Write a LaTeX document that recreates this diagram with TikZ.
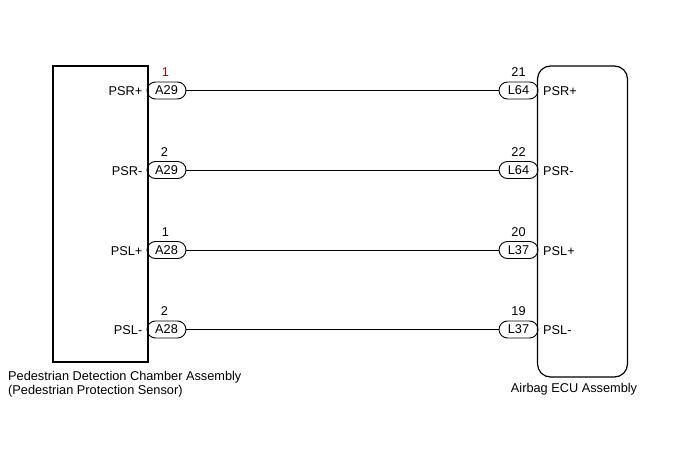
\documentclass[tikz,border=0pt]{standalone}
\usepackage{fontspec}
\setmainfont{Liberation Sans}
\usetikzlibrary{positioning}
\definecolor{pinred}{RGB}{140,20,20}
\begin{document}
\begin{tikzpicture}[x=1bp,y=-1bp,
  lbl/.style={inner sep=0pt,font=\fontsize{12.8}{14.5}\selectfont},
  pill/.style={draw,line width=0.9bp,rounded corners=8.5bp,minimum width=39bp,minimum height=17bp,inner sep=0pt,font=\fontsize{12.8}{14.5}\selectfont},
  wire/.style={line width=0.9bp},
  unit/.style={draw,line width=1.2bp}]
\useasboundingbox (0,0) rectangle (688,463);
% units
\node[unit,minimum width=95bp,minimum height=296bp,inner sep=0pt] (pdc) at (100.5,214) {};
\node[unit,rounded corners=13bp,minimum width=90bp,minimum height=311bp,inner sep=0pt] (ecu) at (582.5,221.5) {};
\node[lbl,anchor=west,align=left] (pdclbl) at (8,384) {Pedestrian Detection Chamber Assembly\\(Pedestrian Protection Sensor)};
\node[lbl] (ecuclbl) at (574,389) {Airbag ECU Assembly};
% rows
\foreach \i/\y/\ln/\lc/\lp/\rn/\rc/\rp in {1/90.5/1/A29/PSR+/21/L64/PSR+,2/170/2/A29/PSR-/22/L64/PSR-,3/250/1/A28/PSL+/20/L37/PSL+,4/329.5/2/A28/PSL-/19/L37/PSL-}{
  \node[pill] (lc\i) at (166.5,\y) {\lc};
  \node[pill] (rc\i) at (518.5,\y) {\rc};
  \draw[wire] (lc\i.east) -- (rc\i.west);
  \node[lbl,anchor=east] (lp\i) at (142.5,\y+1) {\lp};
  \node[lbl,anchor=west] (rp\i) at (543,\y+1) {\rp};
  \node[lbl] (rn\i) at (518.5,\y-18) {\rn};
}
\node[lbl,text=pinred] (ln1) at (165.5,72.5) {1};
\node[lbl] (ln2) at (164.5,152) {2};
\node[lbl] (ln3) at (165.5,232) {1};
\node[lbl] (ln4) at (164.5,311.5) {2};
\end{tikzpicture}
\end{document}
